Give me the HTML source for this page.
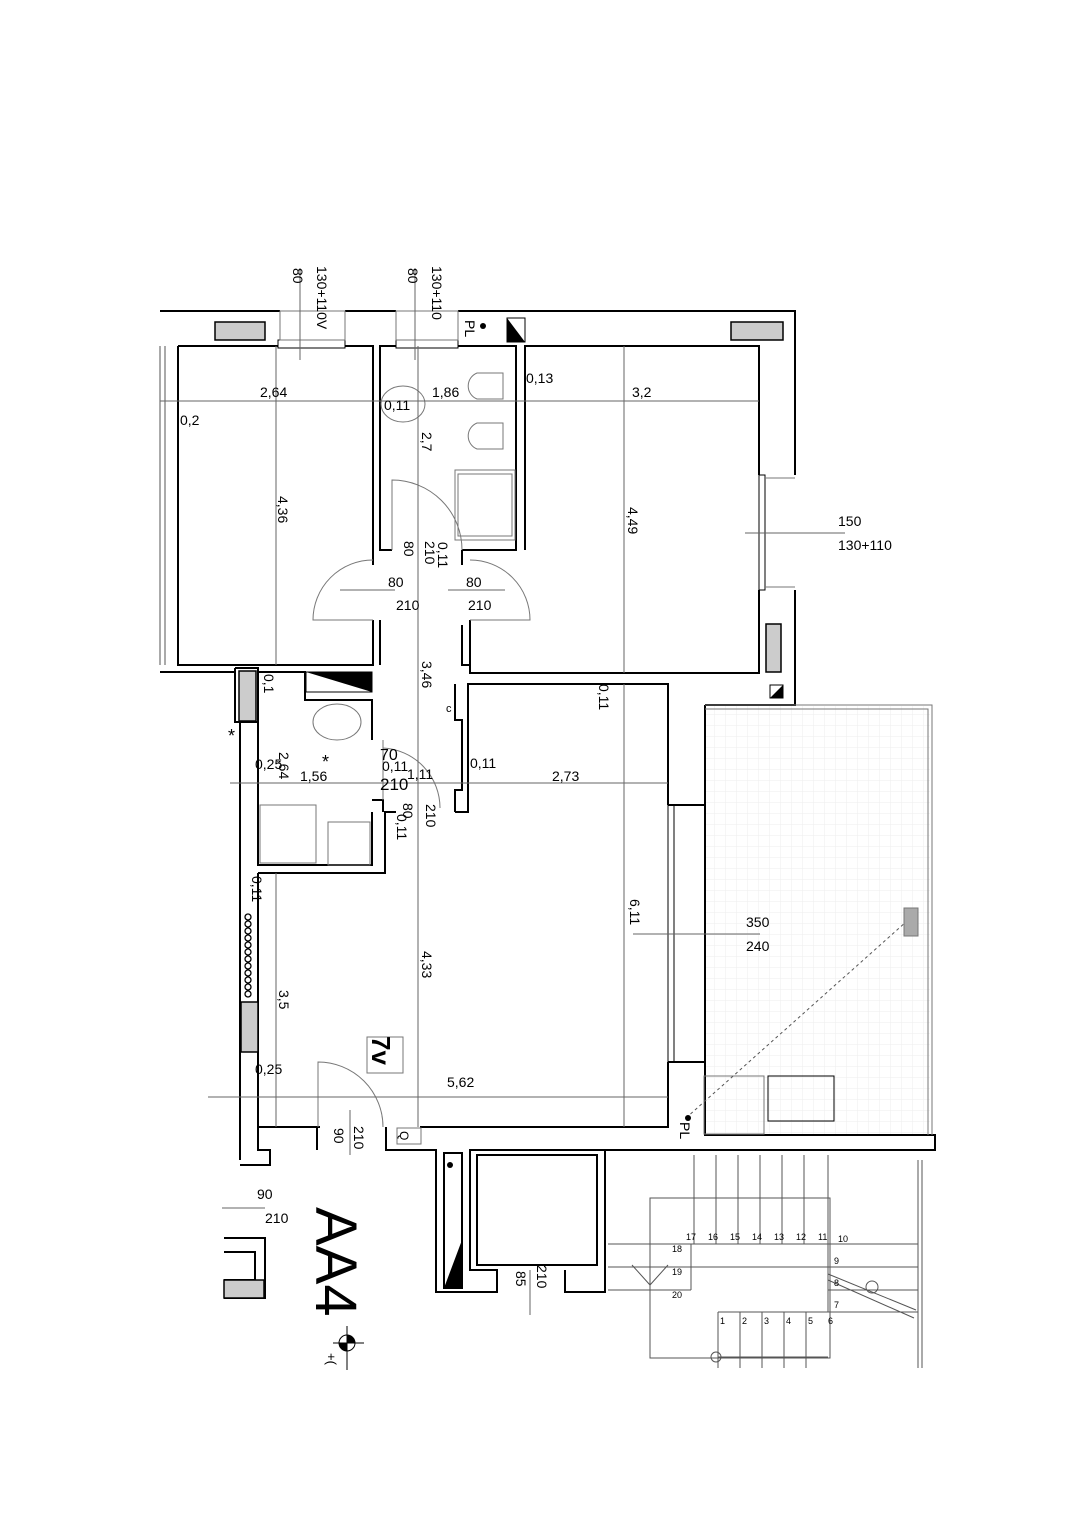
<!DOCTYPE html>
<html><head><meta charset="utf-8"><style>
html,body{margin:0;padding:0;background:#fff}
svg{display:block}
text{font-family:"Liberation Sans",sans-serif;fill:#000}
</style></head><body>
<svg width="1085" height="1535" viewBox="0 0 1085 1535" xmlns="http://www.w3.org/2000/svg">
<defs>
<pattern id="g" width="11" height="11" patternUnits="userSpaceOnUse"><path d="M11 0V11H0" fill="none" stroke="#eee" stroke-width="1"/></pattern>
</defs>
<g fill="none" stroke="#000" stroke-width="2">
<!-- outer top/right -->
<polyline points="160,311 280,311"/><polyline points="345,311 396,311"/><polyline points="458,311 795,311 795,475"/>
<polyline points="795,590 795,705 705,705"/>
<!-- bedroom1 -->
<polyline points="178,346 278,346"/><polyline points="345,346 373,346 373,550"/>
<polyline points="178,346 178,665 373,665 373,620"/>
<!-- bathroom -->
<polyline points="396,346 380,346 380,550 392,550"/><polyline points="458,346 516,346 516,550 462,550"/>
<!-- bedroom2 -->
<polyline points="525,550 525,346 759,346 759,475"/><polyline points="759,590 759,673 470,673 470,620"/>
<!-- corridor -->
<polyline points="373,550 373,565"/><polyline points="462,550 462,565"/>
<polyline points="380,620 380,665"/><polyline points="462,625 462,665 470,665"/>
<!-- lower bathroom -->
<polyline points="258,672 305,672 305,700 372,700 372,740"/>
<polyline points="258,672 258,865 372,865 372,812"/>
<polyline points="372,800 383,800 383,812"/>
<!-- living -->
<polyline points="258,873 385,873 385,812 396,812"/>
<polyline points="455,812 468,812 468,684 668,684 668,805"/>
<polyline points="668,1062 668,1127 420,1127"/><polyline points="320,1127 258,1127 258,873"/>
<polyline points="455,812 455,790 462,790 462,720 455,720 455,684"/>
<!-- outer left -->
<polyline points="240,722 240,1160"/><polyline points="160,672 235,672"/>
<polyline points="235,668 258,668 258,722 235,722 235,668"/>
<!-- bottom -->
<polyline points="258,1127 258,1150 270,1150 270,1165 240,1165"/>
<polyline points="317,1127 317,1150"/>
<polyline points="386,1127 386,1150 436,1150 436,1292 497,1292 497,1270 470,1270 470,1150 605,1150 605,1292 565,1292 565,1270"/>
<polyline points="605,1150 935,1150 935,1135 705,1135 705,705"/>
<polyline points="668,1062 705,1062"/><polyline points="668,805 705,805"/>
<polyline points="705,705 705,1135"/>
<rect x="444" y="1153" width="18" height="135"/>
<rect x="477" y="1155" width="120" height="110" stroke-width="2"/>
<polyline points="224,1238 265,1238 265,1298 224,1298"/>
<polyline points="224,1252 255,1252 255,1280 224,1280"/>
</g>
<!-- terrace -->
<rect x="706" y="706" width="224" height="428" fill="url(#g)"/>
<g fill="none" stroke="#777" stroke-width="1">
<polyline points="705,705 932,705 932,1135"/><polyline points="705,709 928,709 928,1135"/>
<rect x="704" y="1076" width="60" height="58"/><rect x="768" y="1076" width="66" height="45" stroke="#000"/>
<line x1="686" y1="1118" x2="906" y2="922" stroke-dasharray="3,3" stroke="#555"/>
<rect x="904" y="908" width="14" height="28" fill="#aaa"/>
<!-- windows -->
<rect x="278" y="340" width="67" height="8" stroke="#000"/><rect x="396" y="340" width="62" height="8" stroke="#000"/>
<rect x="280" y="311" width="65" height="29"/><rect x="396" y="311" width="62" height="29"/>
<rect x="759" y="475" width="6" height="115" stroke="#000"/><line x1="765" y1="478" x2="795" y2="478"/><line x1="765" y1="587" x2="795" y2="587"/>
<rect x="668" y="805" width="6" height="257" stroke="#000"/>
<!-- doors -->
<path d="M392 550 L392 480 A70 70 0 0 1 462 550"/>
<path d="M373 620 L313 620 A60 60 0 0 1 373 560"/>
<path d="M470 620 L530 620 A60 60 0 0 0 470 560"/>
<path d="M383 740 L383 800 M383 748 A60 60 0 0 1 440 808"/>
<path d="M318 1127 L318 1062 A65 65 0 0 1 383 1127"/>
<!-- fixtures -->
<ellipse cx="403" cy="404" rx="22" ry="18"/><path d="M477 373 a14 14 0 0 0 0 26 h26 v-26 z"/>
<path d="M477 423 a14 14 0 0 0 0 26 h26 v-26 z"/><rect x="455" y="470" width="60" height="70"/><rect x="458" y="474" width="54" height="62"/>
<ellipse cx="337" cy="722" rx="24" ry="18"/><rect x="260" y="805" width="56" height="58"/><rect x="328" y="822" width="42" height="43"/>
<rect x="367" y="1037" width="36" height="36"/><rect x="397" y="1128" width="24" height="16"/>
<!-- stairs -->
<g stroke="#555">
<rect x="650" y="1198" width="180" height="160"/>
<line x1="608" y1="1244" x2="918" y2="1244"/><line x1="608" y1="1267" x2="918" y2="1267"/><line x1="608" y1="1290" x2="691" y2="1290"/>
<line x1="828" y1="1290" x2="918" y2="1290"/><line x1="828" y1="1312" x2="918" y2="1312"/>
<line x1="694" y1="1155" x2="694" y2="1244"/><line x1="716" y1="1155" x2="716" y2="1244"/><line x1="738" y1="1155" x2="738" y2="1244"/>
<line x1="760" y1="1155" x2="760" y2="1244"/><line x1="782" y1="1155" x2="782" y2="1244"/><line x1="804" y1="1155" x2="804" y2="1244"/><line x1="828" y1="1155" x2="828" y2="1312"/>
<line x1="691" y1="1244" x2="691" y2="1290"/>
<line x1="718" y1="1312" x2="718" y2="1368"/><line x1="740" y1="1312" x2="740" y2="1368"/><line x1="762" y1="1312" x2="762" y2="1368"/>
<line x1="784" y1="1312" x2="784" y2="1368"/><line x1="806" y1="1312" x2="806" y2="1368"/><line x1="718" y1="1312" x2="828" y2="1312"/>
<line x1="718" y1="1357" x2="828" y2="1357"/><circle cx="716" cy="1357" r="5"/>
<line x1="828" y1="1274" x2="916" y2="1310"/><line x1="828" y1="1280" x2="914" y2="1318"/><circle cx="872" cy="1287" r="6"/>
<line x1="632" y1="1265" x2="650" y2="1285"/><line x1="650" y1="1285" x2="668" y2="1265"/>
<line x1="918" y1="1160" x2="918" y2="1368"/><line x1="922" y1="1160" x2="922" y2="1368"/>
<line x1="160" y1="346" x2="160" y2="665"/><line x1="165" y1="346" x2="165" y2="665"/>
</g>
</g>
<!-- grey blocks -->
<g fill="#ccc" stroke="#000" stroke-width="1.5">
<rect x="215" y="322" width="50" height="18"/><rect x="731" y="322" width="52" height="18"/>
<rect x="766" y="624" width="15" height="48"/><rect x="239" y="671" width="17" height="50"/><rect x="241" y="1002" width="17" height="50"/>
<rect x="224" y="1280" width="40" height="18"/>
</g>
<!-- triangle symbols -->
<rect x="507" y="318" width="18" height="24" fill="#fff" stroke="#000"/><polygon points="507,318 525,342 507,342" fill="#000"/>
<rect x="306" y="672" width="66" height="20" fill="#fff" stroke="#000"/><polygon points="372,672 372,692 306,672" fill="#000"/>
<polygon points="770,698 783,685 783,698" fill="#000"/><rect x="770" y="685" width="13" height="13" fill="none" stroke="#000"/>
<polygon points="444,1288 462,1288 462,1240" fill="#000"/>
<g fill="#000"><circle cx="483" cy="326" r="3"/><circle cx="688" cy="1118" r="3"/><circle cx="450" cy="1165" r="3"/></g>
<!-- plants -->
<g fill="none" stroke="#000" stroke-width="1.3">
<circle cx="248" cy="917" r="3"/><circle cx="248" cy="924" r="3"/><circle cx="248" cy="931" r="3"/><circle cx="248" cy="938" r="3"/><circle cx="248" cy="945" r="3"/><circle cx="248" cy="952" r="3"/><circle cx="248" cy="959" r="3"/><circle cx="248" cy="966" r="3"/><circle cx="248" cy="973" r="3"/><circle cx="248" cy="980" r="3"/><circle cx="248" cy="987" r="3"/><circle cx="248" cy="994" r="3"/>
</g>
<!-- dimension lines -->
<g stroke="#666" stroke-width="1">
<line x1="160" y1="401" x2="759" y2="401"/><line x1="230" y1="783" x2="668" y2="783"/><line x1="208" y1="1097" x2="668" y2="1097"/>
<line x1="276" y1="346" x2="276" y2="665"/><line x1="418" y1="346" x2="418" y2="1127"/><line x1="624" y1="346" x2="624" y2="673"/>
<line x1="276" y1="873" x2="276" y2="1127"/><line x1="624" y1="684" x2="624" y2="1127"/>
<line x1="745" y1="533" x2="845" y2="533"/><line x1="633" y1="934" x2="760" y2="934"/>
<line x1="340" y1="590" x2="395" y2="590"/><line x1="448" y1="590" x2="505" y2="590"/>
<line x1="300" y1="268" x2="300" y2="360"/><line x1="415" y1="268" x2="415" y2="360"/>
<line x1="350" y1="1110" x2="350" y2="1155"/><line x1="530" y1="1270" x2="530" y2="1315"/>
<line x1="222" y1="1208" x2="265" y2="1208"/>
</g>
<!-- labels -->
<g font-size="14">
<text x="260" y="397">2,64</text><text x="432" y="397">1,86</text><text x="632" y="397">3,2</text>
<text x="526" y="383">0,13</text><text x="180" y="425">0,2</text><text x="384" y="410">0,11</text>
<text x="838" y="526">150</text><text x="838" y="550">130+110</text>
<text x="388" y="587">80</text><text x="396" y="610">210</text><text x="466" y="587">80</text><text x="468" y="610">210</text>
<text x="446" y="712" font-size="11">c</text>
<text x="380" y="760" font-size="16">70</text><text x="382" y="771">0,11</text><text x="380" y="790" font-size="17">210</text><text x="407" y="779">1,11</text>
<text x="470" y="768">0,11</text><text x="552" y="781">2,73</text><text x="255" y="769">0,25</text><text x="300" y="781">1,56</text>
<text x="322" y="768" font-size="18">*</text><text x="228" y="742" font-size="18">*</text>
<text x="746" y="927">350</text><text x="746" y="951">240</text>
<text x="255" y="1074">0,25</text><text x="447" y="1087">5,62</text>
<text x="257" y="1199">90</text><text x="265" y="1223">210</text>
</g>
<g font-size="14">
<text transform="translate(293,268) rotate(90)">80</text>
<text transform="translate(317,266) rotate(90)">130+110V</text>
<text transform="translate(408,268) rotate(90)">80</text>
<text transform="translate(432,266) rotate(90)">130+110</text>
<text transform="translate(465,320) rotate(90)">PL</text>
<text transform="translate(422,432) rotate(90)">2,7</text>
<text transform="translate(278,496) rotate(90)">4,36</text>
<text transform="translate(628,507) rotate(90)">4,49</text>
<text transform="translate(404,541) rotate(90)">80</text>
<text transform="translate(425,541) rotate(90)">210</text>
<text transform="translate(438,542) rotate(90)">0,11</text>
<text transform="translate(422,661) rotate(90)">3,46</text>
<text transform="translate(264,674) rotate(90)">0,1</text>
<text transform="translate(599,684) rotate(90)">0,11</text>
<text transform="translate(279,752) rotate(90)">2,64</text>
<text transform="translate(403,803) rotate(90)">80</text>
<text transform="translate(426,804) rotate(90)">210</text>
<text transform="translate(397,814) rotate(90)">0,11</text>
<text transform="translate(252,876) rotate(90)">0,11</text>
<text transform="translate(630,899) rotate(90)">6,11</text>
<text transform="translate(422,951) rotate(90)">4,33</text>
<text transform="translate(279,990) rotate(90)">3,5</text>
<text transform="translate(354,1126) rotate(90)">210</text>
<text transform="translate(334,1128) rotate(90)">90</text>
<text transform="translate(537,1265) rotate(90)">210</text>
<text transform="translate(516,1271) rotate(90)">85</text>
<text transform="translate(680,1122) rotate(90)">PL</text>
<text transform="translate(400,1131) rotate(90)" font-size="12">Q</text>
<text transform="translate(372,1036) rotate(90)" font-size="26" font-weight="bold">7v</text>
<text transform="translate(316,1207) rotate(90)" font-size="58">AA4</text>
<text transform="translate(327,1353) rotate(90)" font-size="13">+(</text>
</g>
<g font-size="9">
<text x="686" y="1240">17</text><text x="708" y="1240">16</text><text x="730" y="1240">15</text><text x="752" y="1240">14</text><text x="774" y="1240">13</text><text x="796" y="1240">12</text><text x="818" y="1240">11</text><text x="838" y="1242">10</text>
<text x="672" y="1252">18</text><text x="672" y="1275">19</text><text x="672" y="1298">20</text>
<text x="834" y="1264">9</text><text x="834" y="1286">8</text><text x="834" y="1308">7</text>
<text x="720" y="1324">1</text><text x="742" y="1324">2</text><text x="764" y="1324">3</text><text x="786" y="1324">4</text><text x="808" y="1324">5</text><text x="828" y="1324">6</text>
</g>
<circle cx="347" cy="1343" r="8" fill="none" stroke="#000"/><path d="M347 1335 A8 8 0 0 1 355 1343 L347 1343Z M347 1351 A8 8 0 0 1 339 1343 L347 1343Z" fill="#000"/>
<line x1="333" y1="1343" x2="364" y2="1343" stroke="#000"/><line x1="347" y1="1326" x2="347" y2="1370" stroke="#000"/>
</svg>
</body></html>
